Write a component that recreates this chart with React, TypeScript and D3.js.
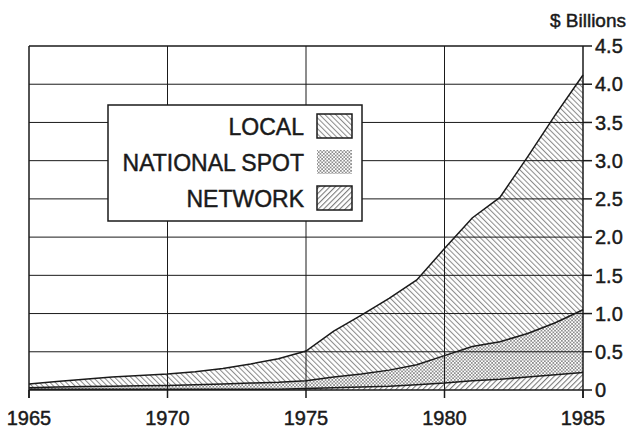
import React from "react";
import * as d3 from "d3";

// Advertising revenue, $ billions, by year
const years = [1965, 1966, 1967, 1968, 1969, 1970, 1971, 1972, 1973, 1974, 1975, 1976, 1977, 1978, 1979, 1980, 1981, 1982, 1983, 1984, 1985];
const network = [0.01, 0.01, 0.01, 0.01, 0.01, 0.01, 0.01, 0.01, 0.01, 0.01, 0.02, 0.03, 0.04, 0.05, 0.07, 0.09, 0.12, 0.14, 0.17, 0.2, 0.23];
const nationalSpot = [0.02, 0.03, 0.035, 0.04, 0.045, 0.05, 0.06, 0.07, 0.08, 0.09, 0.1, 0.14, 0.17, 0.21, 0.26, 0.36, 0.45, 0.49, 0.57, 0.68, 0.82];
const local = [0.05, 0.07, 0.095, 0.12, 0.135, 0.15, 0.17, 0.2, 0.25, 0.31, 0.39, 0.6, 0.77, 0.94, 1.11, 1.4, 1.68, 1.89, 2.31, 2.72, 3.07];

const xTicks = [1965, 1970, 1975, 1980, 1985];
const yTicks = [0, 0.5, 1, 1.5, 2, 2.5, 3, 3.5, 4, 4.5];
const legendLabels = ["LOCAL", "NATIONAL SPOT", "NETWORK"];
const legendKeys = ["local", "nationalSpot", "network"];
const unitLabel = "$ Billions";

const W = 629;
const H = 430;
const left = 29;
const right = 583;
const top = 46;
const bottom = 390;
const FONT = "'Liberation Sans', Arial, Helvetica, sans-serif";
const INK = "#1a1a1a";

const fills: Record<string, string> = {
  network: "url(#hatch-network)",
  nationalSpot: "url(#dots-spot)",
  local: "url(#hatch-local)",
};

// slight stroke gives the labels a medium weight
const textStyle = { stroke: INK, strokeWidth: 0.45, fill: INK } as const;

export default function App() {
  const x = d3.scaleLinear().domain([1965, 1985]).range([left, right]);
  const y = d3.scaleLinear().domain([0, 4.5]).range([bottom, top]);

  const rows = years.map((yr, i) => ({
    year: yr,
    network: network[i],
    nationalSpot: nationalSpot[i],
    local: local[i],
  }));
  const stack = d3.stack<any>().keys(["network", "nationalSpot", "local"]);
  const series = stack(rows);

  const area = d3
    .area<any>()
    .x((d) => x(d.data.year))
    .y0((d) => y(d[0]))
    .y1((d) => y(d[1]));
  const topLine = d3
    .line<any>()
    .x((d) => x(d.data.year))
    .y((d) => y(d[1]));

  const legendX = 108;
  const legendY = 105;
  const legendW = 254;
  const legendH = 116;

  return (
    <svg
      width={W}
      height={H}
      style={{ position: "absolute", left: 0, top: 0, background: "#fff" }}
      fontFamily={FONT}
    >
      <defs>
        <pattern id="hatch-local" width={3.8} height={3.8} patternUnits="userSpaceOnUse" patternTransform="rotate(-45)">
          <line x1={0.5} y1={0} x2={0.5} y2={3.8} stroke="#8c8c8c" strokeWidth={1.1} />
        </pattern>
        <pattern id="hatch-network" width={3.8} height={3.8} patternUnits="userSpaceOnUse" patternTransform="rotate(45)">
          <line x1={0.5} y1={0} x2={0.5} y2={3.8} stroke="#7a7a7a" strokeWidth={1.2} />
        </pattern>
        <pattern id="dots-spot" width={3.4} height={3.4} patternUnits="userSpaceOnUse">
          <rect x={0} y={0} width={1.7} height={1.7} fill="#8e8e8e" />
          <rect x={1.7} y={1.7} width={1.7} height={1.7} fill="#8e8e8e" />
        </pattern>
      </defs>

      {/* stacked areas */}
      {series.map((s) => (
        <path key={s.key} d={area(s) || ""} fill={fills[s.key]} stroke="none" />
      ))}

      {/* grid */}
      {yTicks.slice(1, -1).map((t) => (
        <line key={"gy" + t} x1={left} x2={right} y1={y(t)} y2={y(t)} stroke={INK} strokeWidth={1} />
      ))}
      {xTicks.slice(1, -1).map((t) => (
        <line key={"gx" + t} x1={x(t)} x2={x(t)} y1={top} y2={bottom} stroke={INK} strokeWidth={1} />
      ))}

      {/* frame */}
      <line x1={left} x2={right} y1={top} y2={top} stroke={INK} strokeWidth={1.5} />
      <line x1={left} x2={left} y1={top} y2={bottom + 8} stroke={INK} strokeWidth={1.5} />
      <line x1={right} x2={right} y1={top} y2={bottom + 8} stroke={INK} strokeWidth={1.5} />
      <line x1={left} x2={right} y1={bottom} y2={bottom} stroke={INK} strokeWidth={1.5} />

      {/* layer outlines */}
      {series.map((s) => (
        <path key={"l" + s.key} d={topLine(s) || ""} fill="none" stroke={INK} strokeWidth={1.5} />
      ))}

      {/* x ticks and labels */}
      {xTicks.map((t) => (
        <g key={"xt" + t}>
          <line x1={x(t)} x2={x(t)} y1={bottom} y2={bottom + 8} stroke={INK} strokeWidth={1.5} />
          <text x={x(t)} y={425} textAnchor="middle" fontSize={20} {...textStyle}>
            {t}
          </text>
        </g>
      ))}

      {/* y ticks and labels */}
      {yTicks.map((t) => (
        <g key={"yt" + t}>
          <line x1={right} x2={right + 9} y1={y(t)} y2={y(t)} stroke={INK} strokeWidth={1.5} />
          <text x={595} y={y(t)} dy="0.36em" fontSize={20} {...textStyle}>
            {t === 0 ? "0" : t.toFixed(1)}
          </text>
        </g>
      ))}
      <text x={626} y={27} textAnchor="end" fontSize={19} {...textStyle}>
        {unitLabel}
      </text>

      {/* legend */}
      <rect x={legendX} y={legendY} width={legendW} height={legendH} fill="#fff" stroke={INK} strokeWidth={1.5} />
      {legendLabels.map((lab, i) => {
        const rowY = 114 + i * 36;
        const key = legendKeys[i];
        return (
          <g key={lab}>
            <text x={304} y={rowY + 21} textAnchor="end" fontSize={23} {...textStyle}>
              {lab}
            </text>
            <rect x={317} y={rowY} width={35} height={24} fill="#fff" />
            <rect
              x={317}
              y={rowY}
              width={35}
              height={24}
              fill={fills[key]}
              stroke={key === "nationalSpot" ? "none" : INK}
              strokeWidth={1.5}
            />
          </g>
        );
      })}
    </svg>
  );
}
